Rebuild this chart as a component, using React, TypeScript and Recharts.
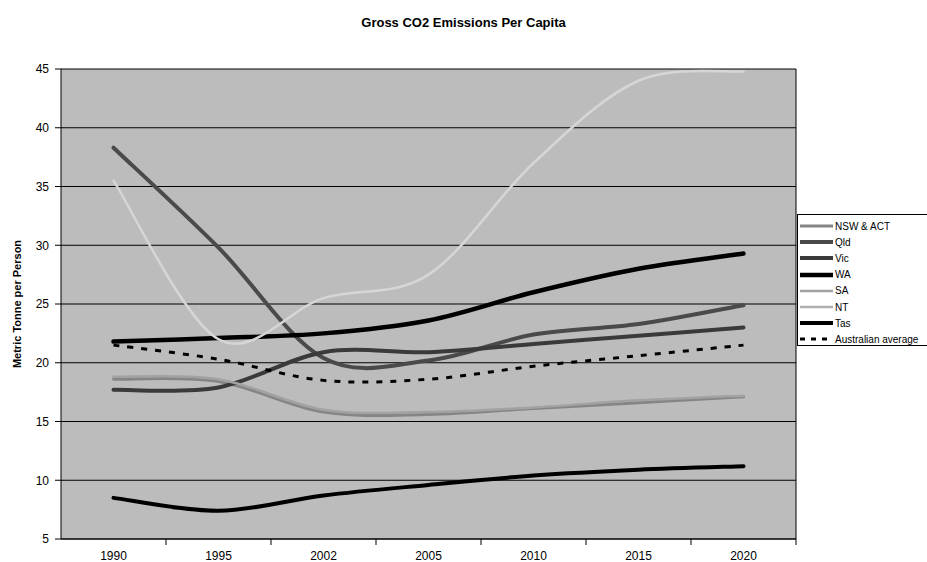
import { LineChart, Line, XAxis, YAxis, CartesianGrid } from "recharts";

// values (t CO2 per person)
const YEARS = ["1990", "1995", "2002", "2005", "2010", "2015", "2020"];
const NSW_ACT = [18.6, 18.4, 15.8, 15.6, 16.1, 16.6, 17.1];
const QLD = [38.3, 29.8, 20.4, 20.2, 22.4, 23.3, 24.9];
const VIC = [17.7, 17.9, 20.9, 20.9, 21.6, 22.3, 23.0];
const WA = [21.8, 22.1, 22.5, 23.6, 26.0, 28.0, 29.3];
const SA = [18.8, 18.6, 16.0, 15.8, 16.2, 16.8, 17.2];
const NT = [35.5, 22.0, 25.5, 27.5, 37.0, 44.0, 44.8];
const TAS = [8.5, 7.4, 8.7, 9.6, 10.4, 10.9, 11.2];
const AUS_AVG = [21.5, 20.3, 18.5, 18.6, 19.7, 20.6, 21.5];
const Y_TICKS = [5, 10, 15, 20, 25, 30, 35, 40, 45];

const data = YEARS.map((year, i) => ({
  year,
  nsw: NSW_ACT[i],
  qld: QLD[i],
  vic: VIC[i],
  wa: WA[i],
  sa: SA[i],
  nt: NT[i],
  tas: TAS[i],
  avg: AUS_AVG[i],
}));

const SERIES = [
  { key: "nsw", name: "NSW & ACT", color: "#858585", width: 3 },
  { key: "qld", name: "Qld", color: "#4a4a4a", width: 4 },
  { key: "vic", name: "Vic", color: "#3a3a3a", width: 4 },
  { key: "wa", name: "WA", color: "#000000", width: 4.5 },
  { key: "sa", name: "SA", color: "#a2a2a2", width: 2.5 },
  { key: "nt", name: "NT", color: "#d6d6d6", width: 2.5 },
  { key: "tas", name: "Tas", color: "#000000", width: 4 },
  { key: "avg", name: "Australian average", color: "#000000", width: 3, dash: "6 8" },
];

// Excel-like smoothed line (Catmull-Rom through every point)
class SmoothCurve {
  ctx: any;
  pts: number[][] = [];
  constructor(ctx: any) {
    this.ctx = ctx;
  }
  areaStart() {}
  areaEnd() {}
  lineStart() {
    this.pts = [];
  }
  point(x: number, y: number) {
    this.pts.push([+x, +y]);
  }
  lineEnd() {
    const p = this.pts;
    const c = this.ctx;
    if (!p.length) return;
    c.moveTo(p[0][0], p[0][1]);
    for (let i = 0; i < p.length - 1; i++) {
      const p0 = p[i - 1] || p[i];
      const p1 = p[i];
      const p2 = p[i + 1];
      const p3 = p[i + 2] || p2;
      c.bezierCurveTo(
        p1[0] + (p2[0] - p0[0]) / 6,
        p1[1] + (p2[1] - p0[1]) / 6,
        p2[0] - (p3[0] - p1[0]) / 6,
        p2[1] - (p3[1] - p1[1]) / 6,
        p2[0],
        p2[1]
      );
    }
  }
}
const smooth = (ctx: any) => new SmoothCurve(ctx);

const FONT = "Arial, 'Liberation Sans', Helvetica, sans-serif";
const W = 927;
const H = 562;
const TICK_SIZE = 6;
const TICK_MARGIN = 6;

function YearTick(props: any) {
  const { x, y, payload } = props;
  const half = payload && typeof payload.offset === "number" && payload.offset > 0 ? payload.offset : 52.5;
  const axisY = y - TICK_SIZE - TICK_MARGIN;
  return (
    <g>
      <line x1={x + half} x2={x + half} y1={axisY} y2={axisY + TICK_SIZE} stroke="#000" />
      <text x={x} y={y} dy="0.71em" textAnchor="middle" fontSize={12} fill="#000" fontFamily={FONT}>
        {payload.value}
      </text>
    </g>
  );
}

function YLabel(props: any) {
  const { viewBox } = props;
  const cy = viewBox.y + viewBox.height / 2;
  const cx = 17;
  return (
    <text
      x={cx}
      y={cy}
      transform={`rotate(-90 ${cx} ${cy})`}
      textAnchor="middle"
      dominantBaseline="central"
      fontSize={11}
      fontWeight="bold"
      fontFamily={FONT}
      fill="#000"
    >
      Metric Tonne per Person
    </text>
  );
}

function LegendBox() {
  return (
    <div
      style={{
        position: "absolute",
        left: 797,
        top: 214,
        width: 140,
        height: 132,
        border: "1px solid #000",
        background: "#fff",
        boxSizing: "border-box",
        paddingTop: 3,
        fontFamily: FONT,
        fontSize: 10,
      }}
    >
      {SERIES.map((s) => (
        <div key={s.key} style={{ display: "flex", alignItems: "center", height: 16.2 }}>
          <svg width={34} height={10} style={{ marginLeft: 2 }}>
            <line
              x1={0}
              x2={33}
              y1={5}
              y2={5}
              stroke={s.color === "#d6d6d6" ? "#b0b0b0" : s.color}
              strokeWidth={s.width}
              strokeDasharray={s.dash ? "5 6" : undefined}
            />
          </svg>
          <span style={{ whiteSpace: "nowrap", marginLeft: 1 }}>{s.name}</span>
        </div>
      ))}
    </div>
  );
}

export default function App() {
  return (
    <div
      style={{
        position: "absolute",
        left: 0,
        top: 0,
        width: W,
        height: H,
        overflow: "hidden",
        background: "#fff",
      }}
    >
      <div
        style={{
          position: "absolute",
          left: 0,
          width: 927,
          top: 15,
          textAlign: "center",
          fontFamily: FONT,
          fontWeight: "bold",
          fontSize: 13,
        }}
      >
        Gross CO2 Emissions Per Capita
      </div>
      <LineChart width={W} height={H} data={data} margin={{ top: 69, right: 130, bottom: 0, left: 0 }}>
        <CartesianGrid vertical={false} stroke="#000" strokeOpacity={1} fill="#bcbcbc" fillOpacity={1} />
        <XAxis
          dataKey="year"
          scale="band"
          height={23}
          tickSize={TICK_SIZE}
          tickMargin={TICK_MARGIN}
          tickLine={false}
          axisLine={{ stroke: "#000" }}
          tick={<YearTick />}
          interval={0}
        />
        <YAxis
          domain={[5, 45]}
          ticks={Y_TICKS}
          interval={0}
          width={61}
          tickSize={6}
          tickMargin={6}
          tickLine={{ stroke: "#000" }}
          axisLine={{ stroke: "#000" }}
          tick={{ fill: "#000", fontSize: 12, fontFamily: FONT }}
          label={<YLabel />}
        />
        <YAxis
          yAxisId="frame"
          orientation="right"
          domain={[5, 45]}
          width={1}
          tick={false}
          tickLine={false}
          axisLine={{ stroke: "#000" }}
        />
        {SERIES.map((s) => (
          <Line
            key={s.key}
            dataKey={s.key}
            name={s.name}
            type={smooth as any}
            stroke={s.color}
            strokeWidth={s.width}
            strokeDasharray={s.dash}
            strokeLinecap={s.dash ? "butt" : "round"}
            dot={false}
            activeDot={false}
            isAnimationActive={false}
          />
        ))}
      </LineChart>
      <LegendBox />
    </div>
  );
}
